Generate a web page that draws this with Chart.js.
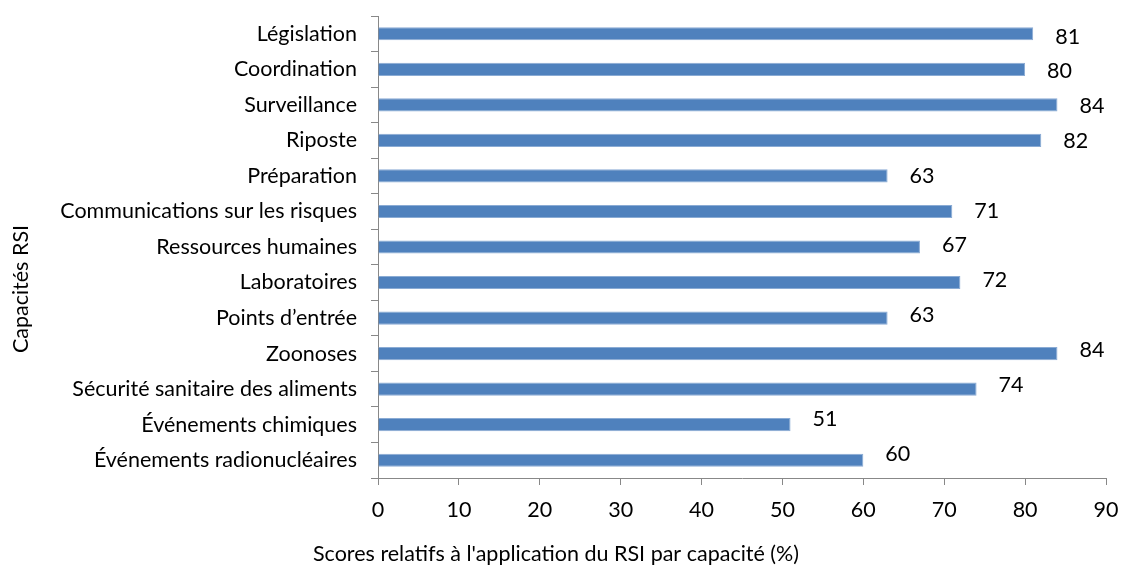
<!DOCTYPE html>
<html>
<head>
<meta charset="utf-8">
<script src="https://cdn.jsdelivr.net/npm/chart.js@4.4.1/dist/chart.umd.min.js"></script>
<style>
  html, body { margin: 0; padding: 0; background: #ffffff; }
  #wrap { width: 1121px; height: 567px; position: relative; }
</style>
</head>
<body>
<div id="wrap"><canvas id="chart" width="1121" height="567"></canvas></div>
<script>
// Capacités RSI, listed top to bottom
const capacites = [
  'Législation',
  'Coordination',
  'Surveillance',
  'Riposte',
  'Préparation',
  'Communications sur les risques',
  'Ressources humaines',
  'Laboratoires',
  'Points d\u2019entrée',
  'Zoonoses',
  'Sécurité sanitaire des aliments',
  'Événements chimiques',
  'Événements radionucléaires'
];
// Score (%) per capacité
const scores = [81, 80, 84, 82, 63, 71, 67, 72, 63, 84, 74, 51, 60];
// Value axis ticks
const xTicks = [0, 10, 20, 30, 40, 50, 60, 70, 80, 90];

const titreX = "Scores relatifs à l'application du RSI par capacité (%)";
const titreY = 'Capacités RSI';

const FONT = "Lato, 'Open Sans', sans-serif";
const FONT_SIZE = 21.5;
const AXIS_GREY = '#888888';

// Values written to the right of each bar
const valueLabels = {
  id: 'valueLabels',
  afterDatasetsDraw(chart) {
    const ctx = chart.ctx;
    const meta = chart.getDatasetMeta(0);
    ctx.save();
    ctx.font = FONT_SIZE + 'px ' + FONT;
    ctx.fillStyle = '#000000';
    ctx.textAlign = 'left';
    ctx.textBaseline = 'middle';
    meta.data.forEach((bar, i) => {
      const n = meta.data.length - 1;
      const dy = 3 - 9 * i / n;
      ctx.fillText(String(scores[i]), bar.x + 22, bar.y + dy);
    });
    ctx.restore();
  }
};

// Axis titles
const axisTitles = {
  id: 'axisTitles',
  afterDraw(chart) {
    const ctx = chart.ctx;
    ctx.save();
    ctx.font = FONT_SIZE + 'px ' + FONT;
    ctx.fillStyle = '#000000';
    ctx.textAlign = 'center';
    ctx.textBaseline = 'middle';
    ctx.fillText(titreX, 556, 554);
    ctx.translate(21, 289);
    ctx.rotate(-Math.PI / 2);
    ctx.fillText(titreY, 0, 0);
    ctx.restore();
  }
};

new Chart(document.getElementById('chart'), {
  type: 'bar',
  data: {
    labels: capacites,
    datasets: [{
      data: scores,
      backgroundColor: '#4F81BD',
      borderColor: '#8AABD4',
      borderWidth: { top: 1, bottom: 1, left: 0, right: 1 },
      borderSkipped: 'left',
      categoryPercentage: 1,
      barPercentage: 0.37
    }]
  },
  options: {
    indexAxis: 'y',
    responsive: false,
    animation: false,
    devicePixelRatio: 1,
    layout: { padding: { top: 16, right: 15, left: 0, bottom: 0 } },
    plugins: {
      legend: { display: false },
      tooltip: { enabled: false }
    },
    scales: {
      x: {
        min: 0,
        max: 90,
        afterBuildTicks(scale) {
          scale.ticks = xTicks.map(v => ({ value: v }));
        },
        afterFit(scale) {
          scale.height = 89;
          scale.paddingLeft = 0;
          scale.paddingRight = 0;
        },
        grid: {
          drawOnChartArea: false,
          drawTicks: true,
          tickLength: 7,
          color: AXIS_GREY
        },
        border: { color: AXIS_GREY, width: 1 },
        ticks: {
          padding: 12,
          color: '#000000',
          font: { family: FONT, size: FONT_SIZE }
        }
      },
      y: {
        afterFit(scale) {
          scale.width = 378;
          scale.paddingTop = 0;
          scale.paddingBottom = 0;
        },
        grid: {
          offset: true,
          drawOnChartArea: false,
          drawTicks: true,
          tickLength: 7,
          color: AXIS_GREY
        },
        border: { color: AXIS_GREY, width: 1 },
        ticks: {
          padding: 14,
          color: '#000000',
          autoSkip: false,
          font: { family: FONT, size: FONT_SIZE }
        }
      }
    }
  },
  plugins: [valueLabels, axisTitles]
});
</script>
</body>
</html>
